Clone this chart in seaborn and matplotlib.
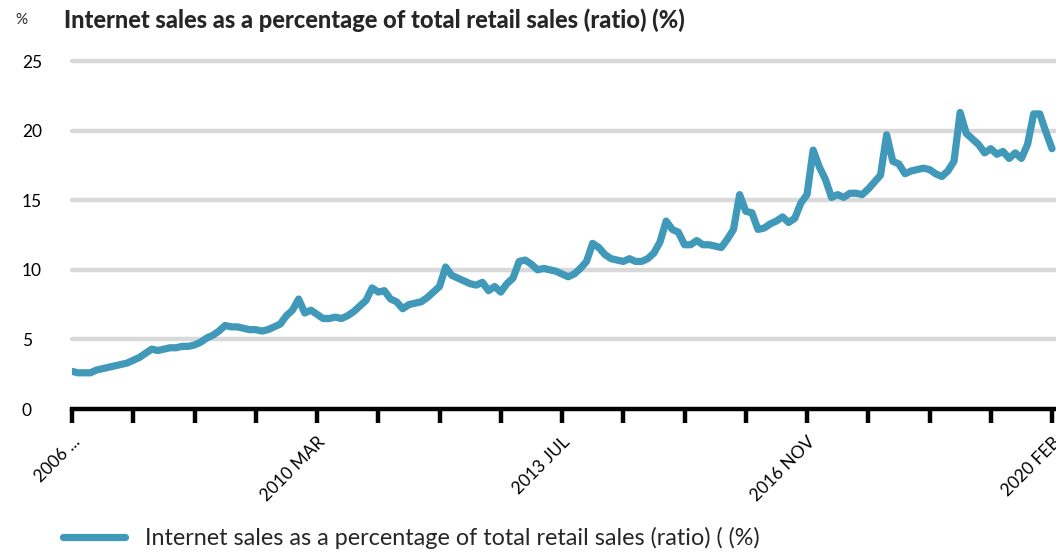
import numpy as np
import pandas as pd
import matplotlib
matplotlib.use("Agg")
import matplotlib.pyplot as plt
import seaborn as sns
from matplotlib.lines import Line2D

# ---- data (monthly) ----
values = [
    2.7, 2.6, 2.6, 2.6, 2.8, 2.9, 3.0, 3.1, 3.2, 3.3,
    3.5, 3.7, 4.0, 4.3, 4.2, 4.3, 4.4, 4.4, 4.5, 4.5,
    4.6, 4.8, 5.1, 5.3, 5.6, 6.0, 5.9, 5.9, 5.8, 5.7,
    5.7, 5.6, 5.7, 5.9, 6.1, 6.7, 7.1, 7.9, 6.9, 7.1,
    6.8, 6.5, 6.5, 6.6, 6.5, 6.7, 7.0, 7.4, 7.8, 8.7,
    8.4, 8.5, 7.9, 7.7, 7.2, 7.5, 7.6, 7.7, 8.0, 8.4,
    8.8, 10.2, 9.6, 9.4, 9.2, 9.0, 8.9, 9.1, 8.5, 8.8,
    8.4, 9.0, 9.4, 10.6, 10.7, 10.4, 10.0, 10.1, 10.0, 9.9,
    9.7, 9.5, 9.7, 10.1, 10.6, 11.9, 11.6, 11.1, 10.8, 10.7,
    10.6, 10.8, 10.6, 10.6, 10.8, 11.2, 12.0, 13.5, 12.9, 12.7,
    11.8, 11.8, 12.1, 11.8, 11.8, 11.7, 11.6, 12.2, 12.9, 15.4,
    14.2, 14.1, 12.9, 13.0, 13.3, 13.5, 13.8, 13.4, 13.7, 14.8,
    15.4, 18.6, 17.4, 16.5, 15.2, 15.4, 15.2, 15.5, 15.5, 15.4,
    15.8, 16.3, 16.8, 19.7, 17.8, 17.6, 16.9, 17.1, 17.2, 17.3,
    17.2, 16.9, 16.7, 17.1, 17.8, 21.3, 19.8, 19.4, 19.0, 18.4,
    18.7, 18.3, 18.5, 18.0, 18.4, 18.0, 19.0, 21.2, 21.2, 19.9,
    18.7,
]
tick_labels = ["2006 ...", "2010 MAR", "2013 JUL", "2016 NOV", "2020 FEB"]
y_ticks = [0, 5, 10, 15, 20, 25]
series_name = "Internet sales as a percentage of total retail sales (ratio) ( (%)"
title = "Internet sales as a percentage of total retail sales (ratio) (%)"

df = pd.DataFrame({"month": np.arange(len(values)), "value": values,
                   "series": series_name})

sns.set_theme(style="white")
plt.rcParams["font.family"] = ["Lato", "DejaVu Sans"]

fig = plt.figure(figsize=(10.56, 5.53), dpi=100)
ax = fig.add_axes([72 / 1056, 144 / 553, (1056 - 72) / 1056, (409 - 61) / 553])

line_color = "#4199b9"
lw = 5.2
sns.lineplot(data=df, x="month", y="value", hue="series", palette=[line_color],
             linewidth=lw, ax=ax, legend=False, zorder=3)
ax.lines[0].set_solid_joinstyle("round")

ax.set_xlim(0, 160.65)
ax.set_ylim(0, 25)

for yv in y_ticks[1:]:
    ax.axhline(yv, color="#d9d9d9", linewidth=3.2, zorder=1, clip_on=False)

for s in ["top", "right", "left"]:
    ax.spines[s].set_visible(False)
ax.spines["bottom"].set_color("black")
ax.spines["bottom"].set_linewidth(3.2)
ax.spines["bottom"].set_zorder(4)

xt = list(range(0, 161, 10))
ax.set_xticks(xt)
lbls = [tick_labels[t // 40] if t % 40 == 0 else "" for t in xt]
ax.set_xticklabels(lbls, rotation=45, ha="right", rotation_mode="anchor",
                   fontsize=12.5, color="black")
ax.tick_params(axis="x", direction="out", length=10, width=3.2, color="black",
               pad=8, bottom=True)

ax.set_yticks(y_ticks)
ax.set_yticklabels([str(v) for v in y_ticks], fontsize=12.5, color="black")
for lab in ax.get_yticklabels():
    lab.set_horizontalalignment("left")
ax.tick_params(axis="y", length=0, pad=36)

ax.set_xlabel("")
ax.set_ylabel("")

fig.text(15 / 1056, 1 - 20 / 553, "%", fontsize=11, va="center", ha="left")
fig.text(64 / 1056, 1 - 20 / 553, title, fontsize=17, fontweight="black",
         va="center", ha="left")

handle = Line2D([0], [0], color=line_color, linewidth=lw)
fig.legend([handle], [series_name], loc="center left",
           bbox_to_anchor=(63 / 1056, 1 - 538 / 553), frameon=False,
           fontsize=16.8, handlelength=2.65, handletextpad=0.85,
           borderpad=0, borderaxespad=0)

fig.savefig("out.png", dpi=100)
